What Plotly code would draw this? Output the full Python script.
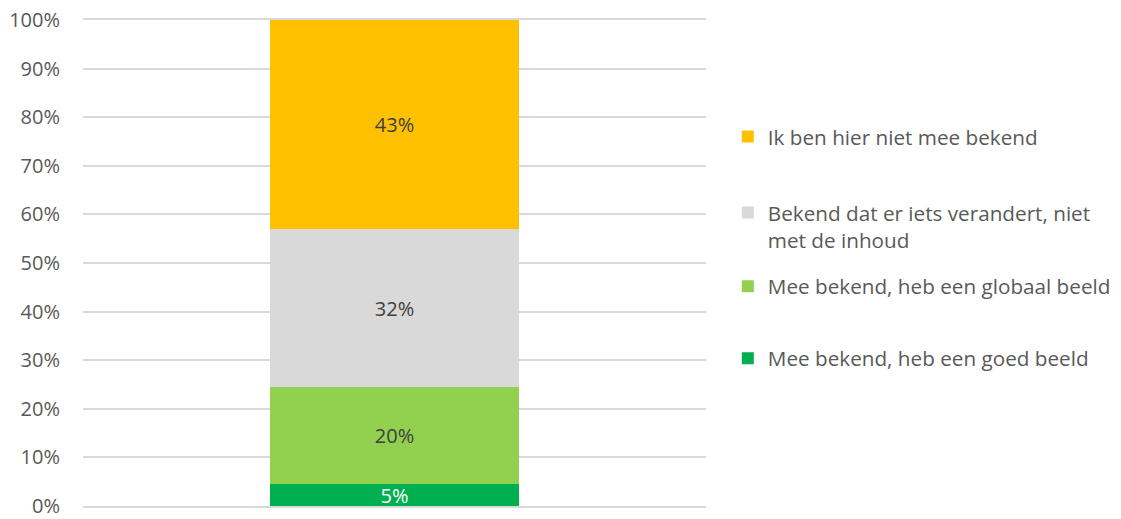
import plotly.graph_objects as go

categories = ["Totaal"]
series_names = [
    "Mee bekend, heb een goed beeld",
    "Mee bekend, heb een globaal beeld",
    "Bekend dat er iets verandert, niet<br>met de inhoud",
    "Ik ben hier niet mee bekend",
]
series_values = [4.5, 19.9, 32.5, 43.1]
series_labels = ["5%", "20%", "32%", "43%"]
colors = ["#00B050", "#92D050", "#D9D9D9", "#FFC000"]
label_colors = ["#FFFFFF", "#404040", "#404040", "#404040"]
tick_vals = list(range(0, 101, 10))
tick_text = ["{}%".format(v) for v in tick_vals]

FONT = "Open Sans, Calibri, sans-serif"

# legend y positions (paper coords), one legend per series so spacing matches
legend_y = [0.304, 0.452, 0.576, 0.760]

fig = go.Figure()
for i, name in enumerate(series_names):
    leg = "legend" if i == 0 else "legend{}".format(i + 1)
    fig.add_trace(
        go.Bar(
            x=categories,
            y=[series_values[i]],
            name=name,
            text=[series_labels[i]],
            textposition="inside",
            insidetextanchor="middle",
            textangle=0,
            constraintext="none",
            textfont=dict(family=FONT, size=20, color=label_colors[i]),
            marker=dict(color=colors[i], line=dict(width=0)),
            width=0.4,
            legend=leg,
            hoverinfo="skip",
        )
    )

legend_style = dict(
    x=1.035,
    xanchor="left",
    yanchor="middle",
    font=dict(family=FONT, size=20.7, color="#595959"),
    bgcolor="rgba(0,0,0,0)",
    itemwidth=30,
    valign="top",
)

layout_legends = {}
for i in range(len(series_names)):
    key = "legend" if i == 0 else "legend{}".format(i + 1)
    layout_legends[key] = dict(legend_style, y=legend_y[i])

fig.update_layout(
    barmode="stack",
    width=1121,
    height=519,
    margin=dict(l=83, r=415, t=20, b=13, autoexpand=False),
    plot_bgcolor="white",
    paper_bgcolor="white",
    showlegend=True,
    xaxis=dict(
        range=[-0.5, 0.5],
        showticklabels=False,
        showgrid=False,
        zeroline=False,
        # top and bottom lines stand in for the 0% and 100% gridlines
        showline=True,
        mirror=True,
        linecolor="#D9D9D9",
        linewidth=1.5,
        layer="below traces",
        fixedrange=True,
        automargin=False,
    ),
    yaxis=dict(
        range=[0, 100],
        tickvals=tick_vals,
        ticktext=tick_text,
        showgrid=True,
        gridcolor="#D9D9D9",
        gridwidth=1.5,
        zeroline=False,
        showline=False,
        ticks="",
        automargin=False,
        ticklabelstandoff=22,
        tickfont=dict(family=FONT, size=20, color="#595959"),
    ),
    **layout_legends,
)

fig.write_html(
    "out.html",
    config={"displayModeBar": False},
    post_script="document.body.style.margin='0';",
)
